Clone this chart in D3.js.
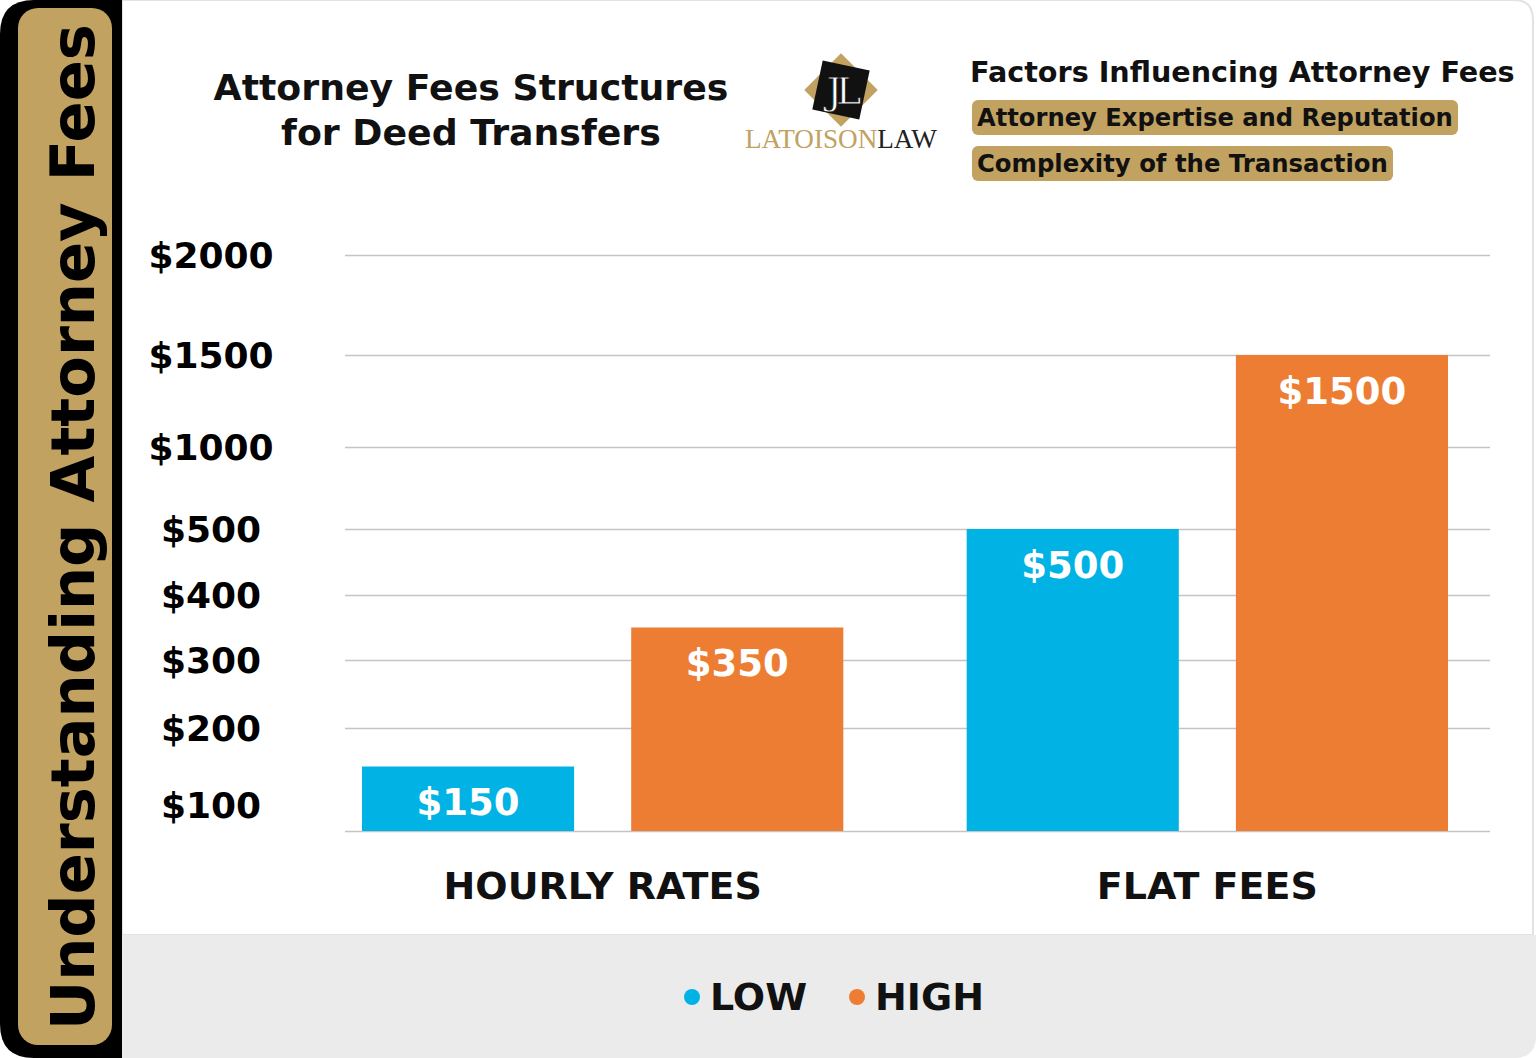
<!doctype html>
<html lang="en">
<head>
  <meta charset="UTF-8">
  <title>Attorney Fees Structures for Deed Transfers</title>
  <script src="https://cdnjs.cloudflare.com/ajax/libs/d3/7.8.5/d3.min.js"></script>
  <style>
  html, body { margin: 0; padding: 0; background: #fff; }
  svg { display: block; font-family: "DejaVu Sans", "Noto Sans", sans-serif; }
  </style>
</head>
<body>
<script>

// data
var categories = ["HOURLY RATES", "FLAT FEES"];
var seriesNames = ["LOW", "HIGH"];
var lowValues = [150, 500];
var highValues = [350, 1500];
var tickValues = [100, 200, 300, 400, 500, 1000, 1500, 2000];
var factors = ["Attorney Expertise and Reputation", "Complexity of the Transaction"];

var w = 1536, h = 1058;
var blue = "#00b3e4", orange = "#ed7d33", gold = "#c1a261";

var svg = d3.select("body").append("svg")
  .attr("width", w)
  .attr("height", h);

// helper: shrink/grow font so the text spans a given width
function fit(sel, width) {
  var node = sel.node();
  var fs = parseFloat(sel.attr("font-size"));
  var len = node.getComputedTextLength();
  sel.attr("font-size", fs * width / len);
  return sel;
}

// frame
svg.append("rect").attr("x", 0).attr("y", 0).attr("width", w).attr("height", h).attr("fill", "#fff");
svg.append("path")
  .attr("d", "M122,0 H1514 Q1533,0 1533,20 V935 H122 Z")
  .attr("fill", "#fff").attr("stroke", "#e2e2e2").attr("stroke-width", 2);
svg.append("path")
  .attr("d", "M122,935 H1536 V1036 Q1536,1058 1514,1058 H122 Z")
  .attr("fill", "#ebebeb");

// left side bar
svg.append("path")
  .attr("d", "M122,0 V1058 H34 Q0,1058 0,1024 V34 Q0,0 34,0 Z")
  .attr("fill", "#000");
svg.append("rect")
  .attr("x", 18).attr("y", 8).attr("width", 94).attr("height", 1037)
  .attr("rx", 20).attr("fill", gold);
var side = svg.append("text")
  .attr("transform", "translate(94,1030) rotate(-90)")
  .attr("font-size", 68).attr("font-weight", "bold").attr("fill", "#000")
  .text("Understanding Attorney Fees");
fit(side, 1006);

// title
var title = svg.append("g").attr("font-weight", "bold").attr("fill", "#111").attr("text-anchor", "middle");
fit(title.append("text").attr("x", 471).attr("y", 100).attr("font-size", 36).text("Attorney Fees Structures"), 515);
fit(title.append("text").attr("x", 471).attr("y", 145).attr("font-size", 36).text("for Deed Transfers"), 380);

// logo
var logo = svg.append("g").attr("transform", "translate(841,90)");
logo.append("rect").attr("x", -26).attr("y", -26).attr("width", 52).attr("height", 52)
  .attr("transform", "rotate(45)").attr("fill", gold);
logo.append("rect").attr("x", -24).attr("y", -25).attr("width", 48).attr("height", 50)
  .attr("transform", "rotate(12)").attr("fill", "#111");
logo.append("text").attr("x", 0).attr("y", 14).attr("text-anchor", "middle")
  .attr("font-family", "'DejaVu Serif', 'Liberation Serif', serif").attr("font-size", 38)
  .attr("fill", "#fff").attr("stroke", "#111").attr("stroke-width", 0.8).attr("letter-spacing", -6)
  .text("JL");
var logoText = svg.append("text").attr("x", 745).attr("y", 148)
  .attr("font-family", "'Liberation Serif', 'DejaVu Serif', serif").attr("font-size", 22);
logoText.append("tspan").attr("fill", gold).text("LATOISON");
logoText.append("tspan").attr("fill", "#222").text("LAW");
fit(logoText, 192);

// factors box
fit(svg.append("text").attr("x", 970).attr("y", 82).attr("font-size", 28)
  .attr("font-weight", "bold").attr("fill", "#111")
  .text("Factors Influencing Attorney Fees"), 545);

var pillWidths = [486, 421];
var pills = svg.selectAll("g.pill").data(factors).enter().append("g")
  .attr("class", "pill")
  .attr("transform", function(d, i) { return "translate(972," + (100 + i * 46) + ")"; });
pills.append("rect")
  .attr("width", function(d, i) { return pillWidths[i]; })
  .attr("height", 35).attr("rx", 6).attr("fill", gold);
pills.append("text")
  .attr("x", 5).attr("y", 26).attr("font-size", 24).attr("font-weight", "bold").attr("fill", "#111")
  .text(function(d) { return d; })
  .each(function(d, i) { fit(d3.select(this), pillWidths[i] - 10); });

// scales
var x0 = d3.scaleBand().domain(categories).range([362, 1448]).paddingInner(0.204).paddingOuter(0);
var x1 = d3.scaleBand().domain(seriesNames).range([0, x0.bandwidth()]).paddingInner(0.212);
// the picture's y axis is not linear, so map each tick separately
var y = d3.scaleLinear()
  .domain([0, 100, 200, 300, 400, 500, 1000, 1500, 2000])
  .range([831, 805, 728, 660, 595, 529, 447, 355, 255]);

// gridlines
var grid = svg.append("g")
  .attr("transform", "translate(345,0)")
  .call(d3.axisLeft(y).tickValues([0].concat(tickValues.filter(function(d) { return d >= 200; })))
    .tickSize(-1145).tickFormat(""));
grid.select(".domain").remove();
grid.selectAll("line").attr("stroke", "#c4c4c4").attr("stroke-width", 1.5);

// y axis labels
var yAxis = svg.append("g")
  .attr("transform", "translate(345,0)")
  .call(d3.axisLeft(y).tickValues(tickValues).tickSize(0).tickFormat(function(d) { return "$" + d; }));
yAxis.select(".domain").remove();
yAxis.selectAll("text")
  .attr("x", -134).attr("dy", "0.35em")
  .attr("text-anchor", "middle")
  .attr("font-family", "'DejaVu Sans', sans-serif")
  .attr("font-size", 36).attr("font-weight", "bold").attr("fill", "#000");

// bars
var rows = categories.map(function(c, i) {
  return { cat: c, values: [
    { key: "LOW", value: lowValues[i], color: blue },
    { key: "HIGH", value: highValues[i], color: orange }
  ]};
});

var groups = svg.selectAll("g.cat").data(rows).enter().append("g")
  .attr("class", "cat")
  .attr("transform", function(d) { return "translate(" + x0(d.cat) + ",0)"; });

groups.selectAll("rect").data(function(d) { return d.values; }).enter().append("rect")
  .attr("x", function(d) { return x1(d.key); })
  .attr("y", function(d) { return y(d.value); })
  .attr("width", x1.bandwidth())
  .attr("height", function(d) { return y(0) - y(d.value); })
  .attr("fill", function(d) { return d.color; });

groups.selectAll("text.val").data(function(d) { return d.values; }).enter().append("text")
  .attr("class", "val")
  .attr("x", function(d) { return x1(d.key) + x1.bandwidth() / 2; })
  .attr("y", function(d) { return y(d.value) + 36; })
  .attr("dy", "0.35em")
  .attr("text-anchor", "middle")
  .attr("font-size", 37).attr("font-weight", "bold").attr("fill", "#fff")
  .text(function(d) { return "$" + d.value; });

// category labels
var xAxis = svg.append("g")
  .attr("transform", "translate(0,831)")
  .call(d3.axisBottom(x0).tickSize(0).tickPadding(41));
xAxis.select(".domain").remove();
xAxis.selectAll("text")
  .attr("font-family", "'DejaVu Sans', sans-serif")
  .attr("font-size", 38).attr("font-weight", "bold").attr("fill", "#111");

// legend
var legendX = [692, 857];
var legend = svg.selectAll("g.legend").data(seriesNames).enter().append("g")
  .attr("class", "legend")
  .attr("transform", function(d, i) { return "translate(" + legendX[i] + ",997)"; });
legend.append("circle").attr("r", 8)
  .attr("fill", function(d, i) { return i === 0 ? blue : orange; });
legend.append("text")
  .attr("x", 18).attr("dy", "0.35em")
  .attr("font-size", 38).attr("font-weight", "bold").attr("fill", "#111")
  .text(function(d) { return d; });

</script>
</body>
</html>
